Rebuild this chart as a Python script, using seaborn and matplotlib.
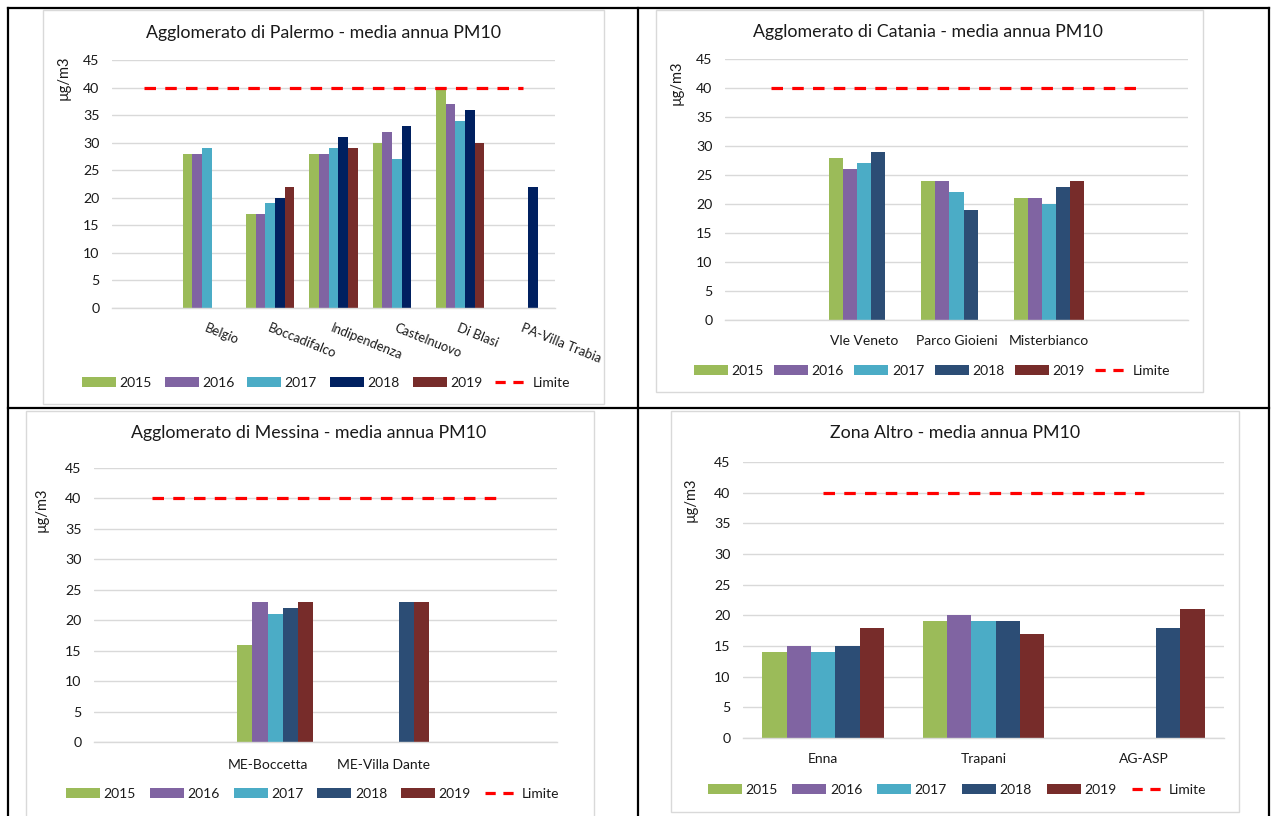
import numpy as np
import pandas as pd
import matplotlib
matplotlib.use("Agg")
import matplotlib.pyplot as plt
import seaborn as sns
from matplotlib.patches import Patch, Rectangle
from matplotlib.lines import Line2D

nan = np.nan

# ---------------- data ----------------
years = ["2015", "2016", "2017", "2018", "2019"]
limit_value = 40
limit_label = "Limite"
y_label = "µg/m3"

pal_title = "Agglomerato di Palermo - media annua PM10"
pal_stations = ["", "Belgio", "Boccadifalco", "Indipendenza", "Castelnuovo", "Di Blasi", "PA-Villa Trabia"]
pal_2015 = [nan, 28, 17, 28, 30, 40, nan]
pal_2016 = [nan, 28, 17, 28, 32, 37, nan]
pal_2017 = [nan, 29, 19, 29, 27, 34, nan]
pal_2018 = [nan, nan, 20, 31, 33, 36, 22]
pal_2019 = [nan, nan, 22, 29, nan, 30, nan]

cat_title = "Agglomerato di Catania - media annua PM10"
cat_stations = ["", "Vle Veneto", "Parco Gioieni", "Misterbianco", " "]
cat_2015 = [nan, 28, 24, 21, nan]
cat_2016 = [nan, 26, 24, 21, nan]
cat_2017 = [nan, 27, 22, 20, nan]
cat_2018 = [nan, 29, 19, 23, nan]
cat_2019 = [nan, nan, nan, 24, nan]

mes_title = "Agglomerato di Messina - media annua PM10"
mes_stations = ["", "ME-Boccetta", "ME-Villa Dante", " "]
mes_2015 = [nan, 16, nan, nan]
mes_2016 = [nan, 23, nan, nan]
mes_2017 = [nan, 21, nan, nan]
mes_2018 = [nan, 22, 23, nan]
mes_2019 = [nan, 23, 23, nan]

alt_title = "Zona Altro - media annua PM10"
alt_stations = ["Enna", "Trapani", "AG-ASP"]
alt_2015 = [14, 19, nan]
alt_2016 = [15, 20, nan]
alt_2017 = [14, 19, nan]
alt_2018 = [15, 19, 18]
alt_2019 = [18, 17, 21]

# ---------------- style ----------------
sns.set_theme(style="white")
plt.rcParams["font.family"] = ["Lato", "DejaVu Sans"]
TXT = "#1a1a1a"
GRID = "#D9D9D9"
col_base = {"2015": "#9BBB59", "2016": "#8064A2", "2017": "#4BACC6",
            "2018": "#2C4D75", "2019": "#772C2A"}
col_pal = dict(col_base, **{"2018": "#002060"})
EMPTY = "(vuoto)"

W, H = 1272, 816
fig = plt.figure(figsize=(W / 100, H / 100), dpi=100)
fig.patch.set_facecolor("white")


def fx(x):
    return x / W


def fy(y):
    return 1 - y / H


def add_ax(l, t, r, b):
    return fig.add_axes([fx(l), fy(b), (r - l) / W, (b - t) / H])


def long_df(stations, series):
    rows = []
    for yr, vals in zip(years, series):
        for st, v in zip(stations, vals):
            if not np.isnan(v):
                rows.append({"station": st, "year": yr, "value": v})
    return pd.DataFrame(rows)


def panel(box, frame, stations, series, colors, title, title_xy, ylab_xy,
          legend_xy, width, xpad, colsp, rotate=False, lead_slot=False):
    l, t, r, b = frame
    fig.patches.append(Rectangle((fx(l), fy(b)), (r - l) / W, (b - t) / H,
                                 transform=fig.transFigure, fill=False,
                                 edgecolor=GRID, lw=1.0, zorder=0))
    ax = add_ax(*box)
    df = long_df(stations, series)
    hue_order = list(years)
    pal = dict(colors)
    if lead_slot:
        # the source chart keeps an empty series slot before 2015
        hue_order = [EMPTY] + hue_order
        pal[EMPTY] = "white"
        df["year"] = pd.Categorical(df["year"], categories=hue_order)
    sns.barplot(data=df, x="station", y="value", hue="year", order=stations,
                hue_order=hue_order, palette=pal, width=width, errorbar=None,
                linewidth=0, saturation=1, legend=False, ax=ax, zorder=2)
    n = len(stations)
    ax.plot([0, n - 1], [limit_value, limit_value], color="#FF0000", lw=2.3,
            dashes=(3.6, 2.9), dash_capstyle="butt", zorder=4)
    ax.set_xlim(-0.5, n - 0.5)
    ax.set_ylim(0, 45)
    ax.set_yticks(range(0, 46, 5))
    ax.yaxis.grid(True, color=GRID, lw=1.0)
    ax.set_axisbelow(True)
    for s in ["left", "right", "top"]:
        ax.spines[s].set_visible(False)
    ax.spines["bottom"].set_color(GRID)
    ax.spines["bottom"].set_linewidth(1.0)
    ax.set_xlabel("")
    ax.set_ylabel("")
    ax.tick_params(axis="y", length=0, pad=9, labelsize=10.2, labelcolor=TXT)
    ax.tick_params(axis="x", length=0, pad=xpad, labelsize=10, labelcolor=TXT)
    ax.set_xticks(range(n))
    if rotate:
        ax.set_xticklabels(stations, rotation=-22, ha="left", va="top",
                           rotation_mode="anchor", fontsize=9.4)
    else:
        ax.set_xticklabels(stations)
    ax.text(ylab_xy[0], ylab_xy[1], y_label, transform=ax.transAxes, rotation=90,
            ha="center", va="center", fontsize=10.5, color=TXT)
    fig.text(fx(title_xy[0]), fy(title_xy[1]), title, ha="center", va="center",
             fontsize=12.8, color=TXT)
    handles = [Patch(facecolor=colors[yr], edgecolor="none") for yr in years]
    handles.append(Line2D([], [], color="#FF0000", lw=2.3, dashes=(3.2, 2.4),
                          dash_capstyle="butt"))
    fig.legend(handles, years + [limit_label], loc="center",
               bbox_to_anchor=(fx(legend_xy[0]), fy(legend_xy[1])),
               bbox_transform=fig.transFigure, ncol=6, frameon=False,
               handlelength=2.45, handleheight=0.78, handletextpad=0.25,
               columnspacing=colsp, fontsize=10, labelcolor=TXT,
               borderpad=0, borderaxespad=0)
    return ax


panel((112, 60, 555, 308), (43, 10, 604, 404), pal_stations,
      [pal_2015, pal_2016, pal_2017, pal_2018, pal_2019], col_pal,
      pal_title, (323, 33), (-0.11, 0.927), (326, 383), 0.76, 10, 0.93, rotate=True)

panel((725, 59, 1188, 320), (656, 10, 1203, 392), cat_stations,
      [cat_2015, cat_2016, cat_2017, cat_2018, cat_2019], col_base,
      cat_title, (928, 32), (-0.104, 0.908), (932, 371), 0.76, 10.5, 0.76)

panel((94, 468, 557, 742), (26, 411, 594, 830), mes_stations,
      [mes_2015, mes_2016, mes_2017, mes_2018, mes_2019], col_base,
      mes_title, (309, 433), (-0.114, 0.847), (313, 794), 0.79, 12, 1.0,
      lead_slot=True)

panel((743, 462, 1224, 738), (671, 411, 1239, 812), alt_stations,
      [alt_2015, alt_2016, alt_2017, alt_2018, alt_2019], col_base,
      alt_title, (955, 433), (-0.108, 0.862), (957, 790), 0.76, 10.5, 1.08)

# table borders
def vline(x, y0, y1):
    fig.add_artist(Line2D([fx(x), fx(x)], [fy(y0), fy(y1)], transform=fig.transFigure,
                          color="black", lw=1.6, solid_capstyle="projecting"))


def hline(y, x0, x1):
    fig.add_artist(Line2D([fx(x0), fx(x1)], [fy(y), fy(y)], transform=fig.transFigure,
                          color="black", lw=1.6, solid_capstyle="projecting"))


vline(7.5, 7.5, 816)
vline(638, 7.5, 816)
vline(1268.5, 7.5, 816)
hline(7.5, 7.5, 1268.5)
hline(408, 7.5, 1268.5)

fig.savefig("out.png", dpi=100)
